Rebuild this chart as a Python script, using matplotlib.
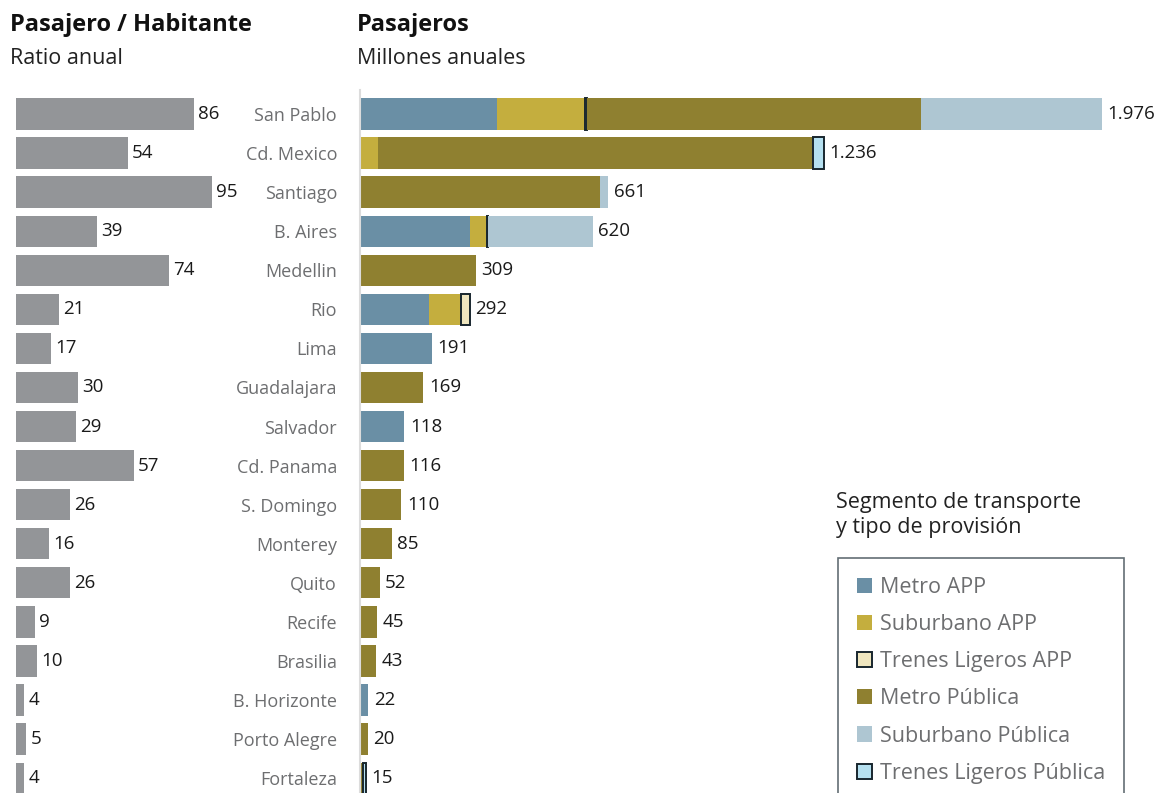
import matplotlib.pyplot as plt
from matplotlib.patches import Patch
import numpy as np

plt.rcParams['font.family'] = ['Open Sans', 'DejaVu Sans']

# Cities, top to bottom
cities = ['San Pablo', 'Cd. Mexico', 'Santiago', 'B. Aires', 'Medellin', 'Rio', 'Lima',
          'Guadalajara', 'Salvador', 'Cd. Panama', 'S. Domingo', 'Monterey', 'Quito',
          'Recife', 'Brasilia', 'B. Horizonte', 'Porto Alegre', 'Fortaleza']

# Passengers per inhabitant (annual)
ratio = [86, 54, 95, 39, 74, 21, 17, 30, 29, 57, 26, 16, 26, 9, 10, 4, 5, 4]

# Annual passengers (millions) by segment and type of provision
metro_app =      [365, 0, 0, 293, 0, 184, 191, 0, 118, 0, 0, 0, 0, 0, 0, 22, 0, 0]
suburbano_app =  [234, 48, 0, 45, 0, 85, 0, 0, 0, 0, 0, 0, 0, 0, 0, 0, 0, 0]
ligeros_app =    [5, 0, 0, 2, 0, 23, 0, 0, 0, 0, 0, 0, 0, 0, 0, 0, 0, 0]
metro_pub =      [890, 1158, 639, 0, 309, 0, 0, 169, 0, 116, 110, 85, 52, 45, 43, 0, 20, 9]
suburbano_pub =  [482, 0, 22, 280, 0, 0, 0, 0, 0, 0, 0, 0, 0, 0, 0, 0, 0, 0]
ligeros_pub =    [0, 30, 0, 0, 0, 0, 0, 0, 0, 0, 0, 0, 0, 0, 0, 0, 0, 6]

segments = [
    ('Metro APP', metro_app, '#6a8fa5', None),
    ('Suburbano APP', suburbano_app, '#c4ae3e', None),
    ('Trenes Ligeros APP', ligeros_app, '#efe6bf', '#18262e'),
    ('Metro Pública', metro_pub, '#8f8030', None),
    ('Suburbano Pública', suburbano_pub, '#aec6d2', None),
    ('Trenes Ligeros Pública', ligeros_pub, '#b5e0f0', '#18262e'),
]

W, H = 1154, 793
fig = plt.figure(figsize=(W / 100, H / 100), dpi=100)

y = np.arange(len(cities))
ylim = (17.38, -0.614)
ax_top = 90
bar_h = 0.8

# left panel: ratio
axl = fig.add_axes([16 / W, 0, 115 * 2.065 / W, (H - ax_top) / H])
axl.barh(y, ratio, height=bar_h, color='#939598')
for yi, v in zip(y, ratio):
    axl.annotate(str(v), (v, yi), xytext=(3, 0), textcoords='offset points',
                 va='center', ha='left', fontsize=13.5, color='#1a1a1a')
axl.set_xlim(0, 115)
axl.set_ylim(*ylim)
axl.axis('off')

# right panel: stacked passengers
axr = fig.add_axes([360 / W, 0, 2100 * 0.3755 / W, (H - ax_top) / H])
left = np.zeros(len(cities))
for name, vals, color, edge in segments:
    vals = np.array(vals, dtype=float)
    if edge:
        axr.barh(y, vals, left=left, height=bar_h, color=color,
                 edgecolor=[edge if v > 0 else 'none' for v in vals], linewidth=1.4)
    else:
        axr.barh(y, vals, left=left, height=bar_h, color=color)
    left += vals

for yi, tot in zip(y, left):
    axr.annotate(f'{int(tot):,}'.replace(',', '.'), (tot, yi), xytext=(4, 0),
                 textcoords='offset points', va='center', ha='left',
                 fontsize=13.5, color='#1a1a1a')

axr.set_xlim(0, 2100)
axr.set_ylim(*ylim)
axr.set_yticks(y)
axr.set_yticklabels(cities, fontsize=13, color='#6d6e70')
axr.tick_params(axis='y', length=0, pad=16.5)
axr.set_xticks([])
for s in ['top', 'right', 'bottom']:
    axr.spines[s].set_visible(False)
axr.spines['left'].set_color('#dcdcdc')
axr.spines['left'].set_linewidth(1.5)

# titles
fig.text(10 / W, 1 - 25 / H, 'Pasajero / Habitante', fontsize=17, fontweight='bold',
         va='center', ha='left', color='#111111')
fig.text(10 / W, 1 - 59 / H, 'Ratio anual', fontsize=15.5, va='center', ha='left',
         color='#222222')
fig.text(357 / W, 1 - 25 / H, 'Pasajeros', fontsize=17, fontweight='bold',
         va='center', ha='left', color='#111111')
fig.text(357 / W, 1 - 59 / H, 'Millones anuales', fontsize=15.5, va='center', ha='left',
         color='#222222')

# legend (box runs off the bottom edge)
fig.text(836 / W, 1 - 515 / H, 'Segmento de transporte\ny tipo de provisión',
         fontsize=15.5, va='center', ha='left', color='#222222', linespacing=1.2)
handles = [Patch(facecolor=c, edgecolor=e if e else c, linewidth=1.4 if e else 0,
                 label=n) for n, _, c, e in segments]
leg = fig.legend(handles=handles, loc='upper left',
                 bbox_to_anchor=(838 / W, 1 - 558 / H), frameon=True, fancybox=False,
                 fontsize=15.5, handlelength=0.7, handleheight=0.7, handletextpad=0.35,
                 labelspacing=0.75, borderpad=0.88, borderaxespad=0)
leg.get_frame().set_edgecolor('#3c4a52')
leg.get_frame().set_linewidth(1.2)
for t in leg.get_texts():
    t.set_color('#6d6e70')

fig.savefig('out.png', dpi=100)
